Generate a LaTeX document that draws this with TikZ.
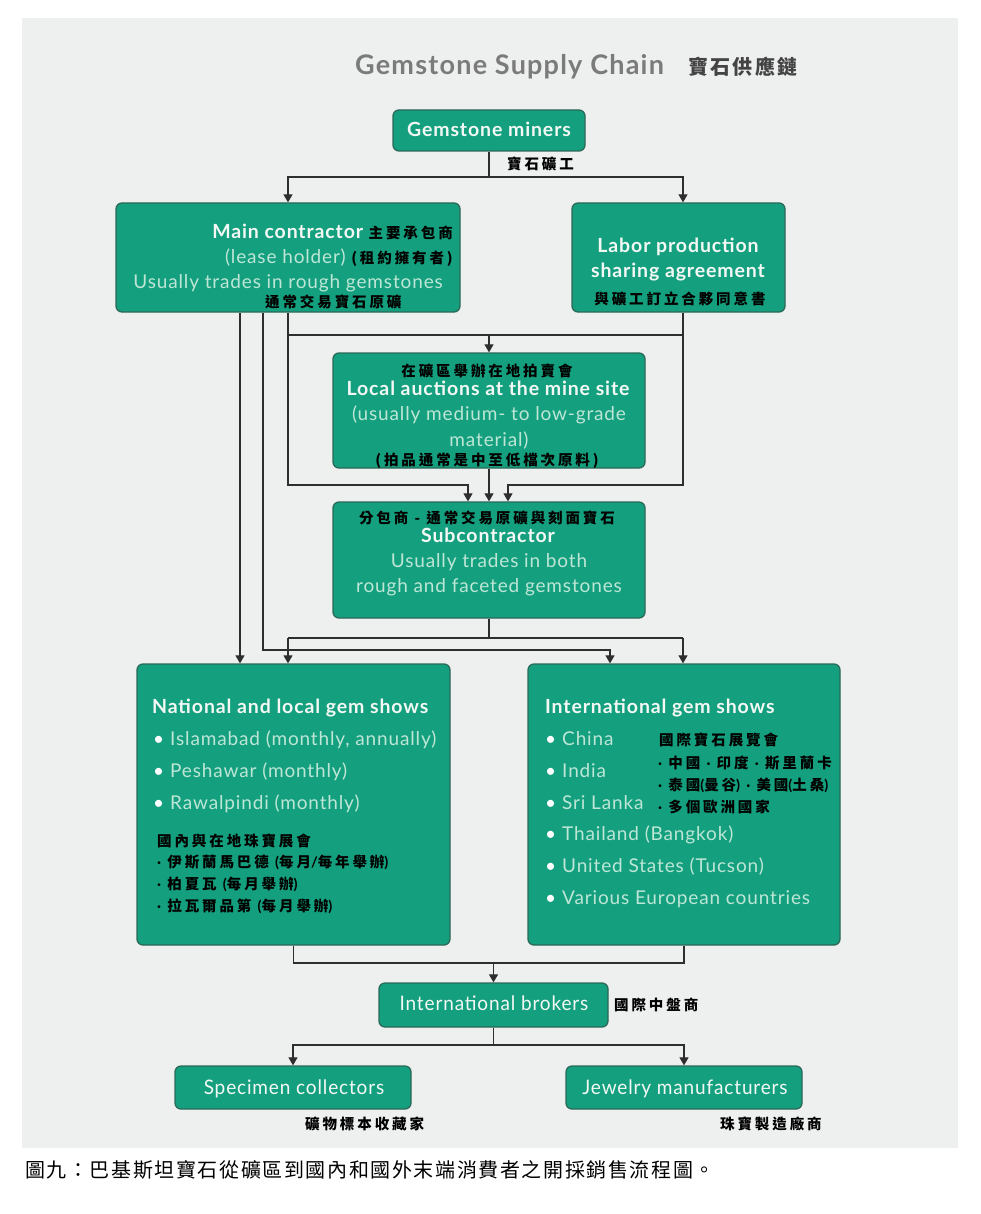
\documentclass[tikz,border=0pt]{standalone}
\usepackage{fontspec}
\setmainfont{Lato}[LetterSpace=4.5]
\newfontfamily\cjk{Noto Sans CJK TC}[LetterSpace=20]
\newfontfamily\cjkcap{Noto Sans CJK TC}[LetterSpace=8]
\newfontfamily\cjktitle{Noto Sans CJK TC}[LetterSpace=12]
\newfontfamily\latdot{Lato}
\newcommand\md{{\latdot\bfseries\fontsize{14.5}{17}\selectfont·}}
\newcommand\lp{{\latdot\bfseries\fontsize{14.5}{17}\selectfont(}}
\newcommand\rp{{\latdot\bfseries\fontsize{14.5}{17}\selectfont)}}
\newcommand\zslash{{\latdot\bfseries\fontsize{14.5}{17}\selectfont/}}
\usetikzlibrary{arrows.meta}
\definecolor{panel}{HTML}{EEEFEF}
\definecolor{boxfill}{HTML}{14A07E}
\definecolor{boxline}{HTML}{2B6A58}
\definecolor{wtitle}{HTML}{F3F8F5}
\definecolor{wbody}{HTML}{BDE6D6}
\definecolor{conncol}{HTML}{2E2E2E}
\definecolor{titlegrey}{HTML}{7B7B7B}
\definecolor{zhtitle}{HTML}{444444}
\begin{document}
\begin{tikzpicture}[x=1pt,y=-1pt,
  box/.style 2 args={draw=boxline, line width=1.3pt, fill=boxfill, rounded corners=6pt,
    inner sep=0, minimum width=#1, minimum height=#2},
  ttl/.style={inner sep=0, text height=15.6pt, text depth=3.9pt, text=wtitle, font=\fontsize{19.5}{22}\selectfont\bfseries},
  bod/.style={inner sep=0, text height=15.2pt, text depth=3.8pt, text=wbody, font=\fontsize{19}{22}\selectfont},
  zh/.style={inner sep=0, text height=12.76pt, text depth=1.74pt, text=black,
    font=\cjk\fontsize{14.5}{17}\selectfont\bfseries},
  cond/.style={inner sep=0, text height=16pt, text depth=4pt, text=wtitle, font=\fontsize{20}{24}\selectfont},
  conn/.style={draw=conncol, line width=1.2pt},
  arr/.style={conn, -{Triangle[width=9pt,length=8pt]}}]
\useasboundingbox (0,0) rectangle (980,1214);
\fill[white] (0,0) rectangle (980,1214);
\fill[panel] (22,18) rectangle (958,1148);

% title
\node[inner sep=0, text height=21.6pt, text depth=5.4pt, anchor=west, text=titlegrey, font=\fontsize{27}{30}\selectfont\bfseries] (title) at (355,66) {Gemstone Supply Chain};
\node[inner sep=0, text height=17.6pt, text depth=2.4pt, anchor=west, text=zhtitle, font=\cjktitle\fontsize{20}{24}\selectfont\bfseries] (titlezh) at (688,67) {寶石供應鏈};

% boxes
\node[box={192}{41}, ttl] (miners) at (489,130.5) {Gemstone miners};
\node[zh, anchor=west] (minerszh) at (507,164) {寶石礦工};

\node[box={344}{109}] (main) at (288,257.5) {};
\node[ttl, anchor=east] (main1) at (453,233) {Main contractor {\cjk\fontsize{14.5}{17}\selectfont\color{black}主要承包商}};
\node[bod, anchor=east] (main2) at (453,258) {(lease holder) {\cjk\fontsize{14.5}{17}\selectfont\bfseries\color{black}(租約擁有者)}};
\node[bod, anchor=east] (main3) at (443,283) {Usually trades in rough gemstones};
\node[zh, anchor=west] (main4) at (265,302) {通常交易寶石原礦};

\node[box={213}{109}] (labor) at (678.5,257.5) {};
\node[ttl] (labor1) at (678,247) {Labor production};
\node[ttl] (labor2) at (678,272) {sharing agreement};
\node[zh] (labor3) at (680,299) {與礦工訂立合夥同意書};

\node[box={312}{115}] (auction) at (489,410.5) {};
\node[zh] (auc1) at (487,371) {在礦區舉辦在地拍賣會};
\node[ttl] (auc2) at (488,390) {Local auctions at the mine site};
\node[bod] (auc3) at (489,415) {(usually medium- to low-grade};
\node[bod] (auc4) at (489,441) {material)};
\node[zh] (auc5) at (487,460) {(拍品通常是中至低檔次原料)};

\node[box={312}{116}] (sub) at (489,560) {};
\node[zh] (sub1) at (487,518) {分包商 - 通常交易原礦與刻面寶石};
\node[ttl] (sub2) at (488,537) {Subcontractor};
\node[bod] (sub3) at (489,562) {Usually trades in both};
\node[bod] (sub4) at (489,587) {rough and faceted gemstones};

\node[box={313}{281}] (natl) at (293.5,804.5) {};
\node[ttl, anchor=west] (natl0) at (152,708) {National and local gem shows};
\node[bod, anchor=west] (natl1) at (153,740) {{\color{white}•}\kern6pt Islamabad (monthly, annually)};
\node[bod, anchor=west] (natl2) at (153,772) {{\color{white}•}\kern6pt Peshawar (monthly)};
\node[bod, anchor=west] (natl3) at (153,804) {{\color{white}•}\kern6pt Rawalpindi (monthly)};
\node[zh, anchor=west] (natlz0) at (157,841) {國內與在地珠寶展會};
\node[zh, anchor=west] (natlz1) at (157,862) {\md\ 伊斯蘭馬巴德 \lp 每月\zslash 每年舉辦\rp};
\node[zh, anchor=west] (natlz2) at (157,884) {\md\ 柏夏瓦 \lp 每月舉辦\rp};
\node[zh, anchor=west] (natlz3) at (157,906) {\md\ 拉瓦爾品第 \lp 每月舉辦\rp};

\node[box={312}{281}] (intl) at (684,804.5) {};
\node[ttl, anchor=west] (intl0) at (545,708) {International gem shows};
\node[bod, anchor=west] (intl1) at (545,740) {{\color{white}•}\kern6pt China};
\node[bod, anchor=west] (intl2) at (545,772) {{\color{white}•}\kern6pt India};
\node[bod, anchor=west] (intl3) at (545,804) {{\color{white}•}\kern6pt Sri Lanka};
\node[bod, anchor=west] (intl4) at (545,835) {{\color{white}•}\kern6pt Thailand (Bangkok)};
\node[bod, anchor=west] (intl5) at (545,867) {{\color{white}•}\kern6pt United States (Tucson)};
\node[bod, anchor=west] (intl6) at (545,899) {{\color{white}•}\kern6pt Various European countries};
\node[zh, anchor=west] (intlz0) at (659,740) {國際寶石展覽會};
\node[zh, anchor=west] (intlz1) at (658,763) {\md\ 中國 \md\ 印度 \md\ 斯里蘭卡};
\node[zh, anchor=west] (intlz2) at (658,785) {\md\ 泰國\lp 曼谷\rp\ \md\ 美國\lp 土桑\rp};
\node[zh, anchor=west] (intlz3) at (658,807) {\md\ 多個歐洲國家};

\node[box={229}{44}] (brokers) at (493.5,1005) {};
\node[cond] (brokerst) at (494,1004) {\scalebox{0.95}[1]{International brokers}};
\node[zh, anchor=west] (brokerszh) at (614,1005) {國際中盤商};

\node[box={236}{43}] (spec) at (293,1087.5) {};
\node[cond] (spect) at (294,1088) {\scalebox{0.95}[1]{Specimen collectors}};
\node[zh, anchor=west] (speczh) at (305,1124) {礦物標本收藏家};

\node[box={236}{43}] (jewel) at (684,1087.5) {};
\node[cond] (jewelt) at (685,1088) {\scalebox{0.95}[1]{Jewelry manufacturers}};
\node[zh, anchor=west] (jewelzh) at (720,1124) {珠寶製造廠商};

% caption
\node[inner sep=0, anchor=west, text height=17.6pt, text depth=2.4pt, font=\cjkcap\fontsize{20}{24}\selectfont] (caption) at (25,1170) {圖九：巴基斯坦寶石從礦區到國內和國外末端消費者之開採銷售流程圖。};

% connectors
\coordinate (j1) at (489,177);
\draw[conn] (miners) -- (j1);
\draw[arr] (j1) -| (main.north);
\draw[arr] (j1) -| ([xshift=4.5]labor.north);

\coordinate (hL) at (288,335);
\coordinate (hR) at (683,335);
\draw[conn] (hL) -- (hR);
\draw[arr] (auction.north |- hL) -- (auction.north);
\coordinate (dL) at (288,485);
\coordinate (dR) at (683,485);
\draw[arr] (main.south) -- (dL) -| ([xshift=-21]sub.north);
\draw[arr] ([xshift=4.5]labor.south) -- (dR) -| ([xshift=19]sub.north);
\draw[arr] (auction) -- (sub);

\coordinate (e1) at (263,650);
\draw[arr] ([xshift=-25]main.south) -- (e1) -| ([xshift=-74]intl.north);
\draw[arr] ([xshift=-48]main.south) -- ([xshift=-53.5]natl.north);

\coordinate (s1) at (489,638);
\coordinate (sL) at (288,638);
\coordinate (sR) at (683,638);
\draw[conn] (sub) -- (s1);
\draw[conn] (sL) -- (sR);
\draw[arr] (sL) -| ([xshift=-5.5]natl.north);
\draw[arr] (sR) -| ([xshift=-1]intl.north);

\coordinate (bL) at (293.5,963);
\coordinate (bR) at (684,963);
\draw[conn] (natl.south) -- (bL) -- (bR) -- (intl.south);
\draw[arr] (brokers.north |- bL) -- (brokers.north);

\coordinate (k1) at (493.5,1045);
\draw[conn] (brokers) -- (k1);
\draw[arr] (k1) -| (spec.north);
\draw[arr] (k1) -| (jewel.north);
\end{tikzpicture}
\end{document}
